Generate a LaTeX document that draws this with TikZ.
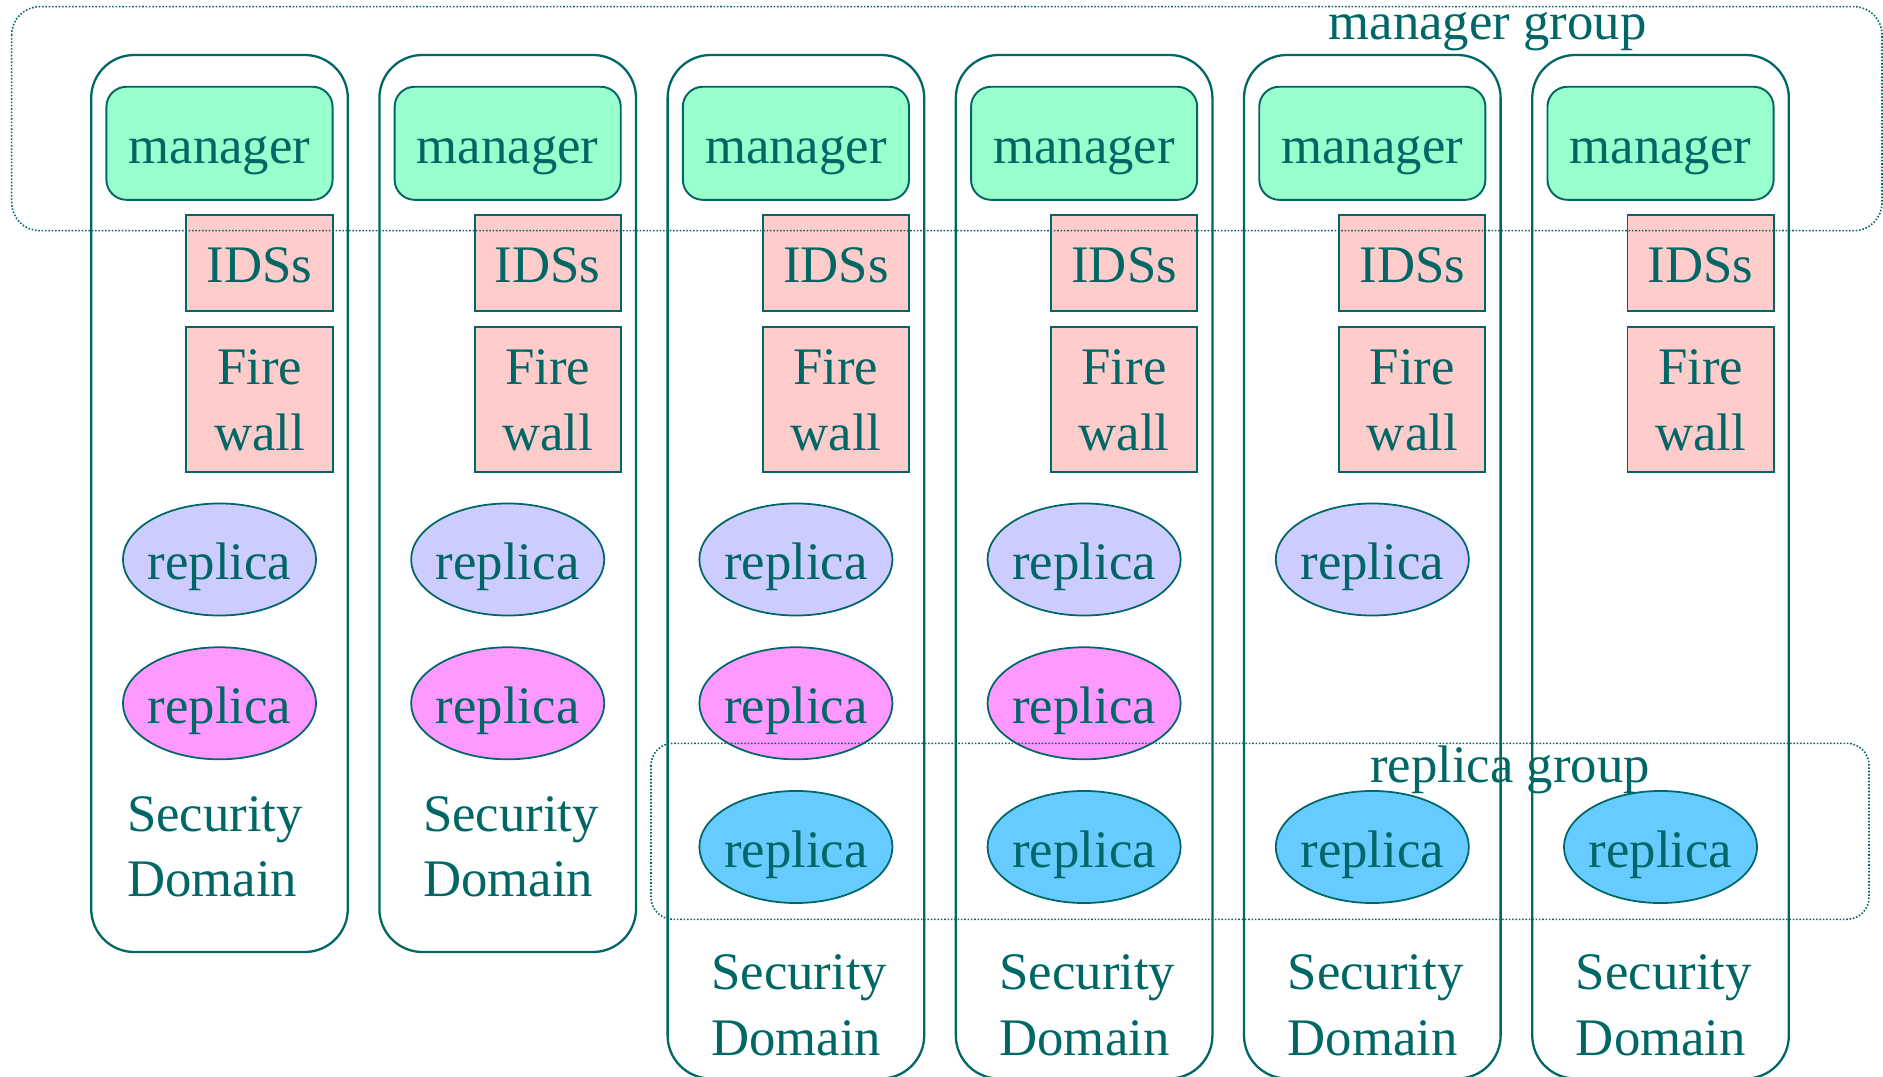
\documentclass[tikz,border=0pt]{standalone}
\usepackage{fontspec}
\setmainfont{Liberation Serif}
\usetikzlibrary{shapes.geometric}

\definecolor{sdline}{RGB}{0,102,102}
\definecolor{mgrfill}{RGB}{153,255,204}
\definecolor{guardfill}{RGB}{255,204,204}
\definecolor{repafill}{RGB}{204,204,255}
\definecolor{repbfill}{RGB}{255,153,255}
\definecolor{repcfill}{RGB}{102,204,255}

\begin{document}
\begin{tikzpicture}[x = 0.01cm, y = -0.01cm, line width = 0.55pt, draw = sdline, text = sdline,
		every node/.style = {font = \fontsize{15}{18.5}\selectfont},
		oneline/.style = {text height = 0.5cm, text depth = 0.1cm},
		sdbox/.style = {draw, line width = 0.65pt, rounded corners = 0.43cm},
		manager/.style = {draw, fill = mgrfill, rounded corners = 0.2cm, minimum width = 2.26cm, minimum height = 1.13cm, oneline},
		guard/.style = {draw, fill = guardfill, minimum width = 1.46cm, inner sep = 0pt, align = center},
		replica/.style = {ellipse, draw, line width = 0.5pt, minimum width = 1.93cm, minimum height = 1.12cm, inner xsep = -0.1cm, inner ysep = 0pt, oneline},
		group/.style = {draw, line width = 0.45pt, dash pattern = on 0.45pt off 0.5pt}]

		\useasboundingbox (0,0) rectangle (1883,1077);

		% one column per security domain
		\foreach \i/\dx/\ty/\dombot in {0/-4.5/896.7/952, 1/3.3/896.7/952, 2/3.3/1055/1078.5,
				3/3.3/1055/1078.5, 4/3.3/1055/1078.5, 5/3.3/1055/1078.5} {
			\pgfmathsetmacro{\cx}{219.5 + 288.2*\i}
			\draw [sdbox] (\cx-128.3,55) rectangle (\cx+128.3,\dombot);
			\node [manager] (mgr\i) at (\cx,143.3) {manager};
			\node [guard, minimum height = 0.96cm, oneline] (ids\i) at (\cx+40,263) {IDSs};
			\node [guard, minimum height = 1.45cm, text height = 1.016cm, text depth = 0cm] (fw\i) at (\cx+40,399.2) {Fire\\wall};
			\node [align = left, anchor = base] (dom\i) at (\cx+\dx,\ty) {Security\\Domain};
		}

		\foreach \i in {0,...,4}
			\node [replica, fill = repafill] (repa\i) at (219.5+288.2*\i,559.5) {replica};
		\foreach \i in {0,...,3}
			\node [replica, fill = repbfill] (repb\i) at (219.5+288.2*\i,703.3) {replica};
		\foreach \i in {2,...,5}
			\node [replica, fill = repcfill] (repc\i) at (219.5+288.2*\i,847) {replica};

		% groups
		\draw [group, rounded corners = 0.28cm] (11.7,6.7) rectangle (1882,230.7);
		\node [anchor = base] (mgrgroup) at (1487.5,40) {manager group};
		\draw [group, rounded corners = 0.22cm] (651,743.3) rectangle (1869,919.3);
		\node [anchor = base] (repgroup) at (1510,782) {replica group};

		\end{tikzpicture}
\end{document}
